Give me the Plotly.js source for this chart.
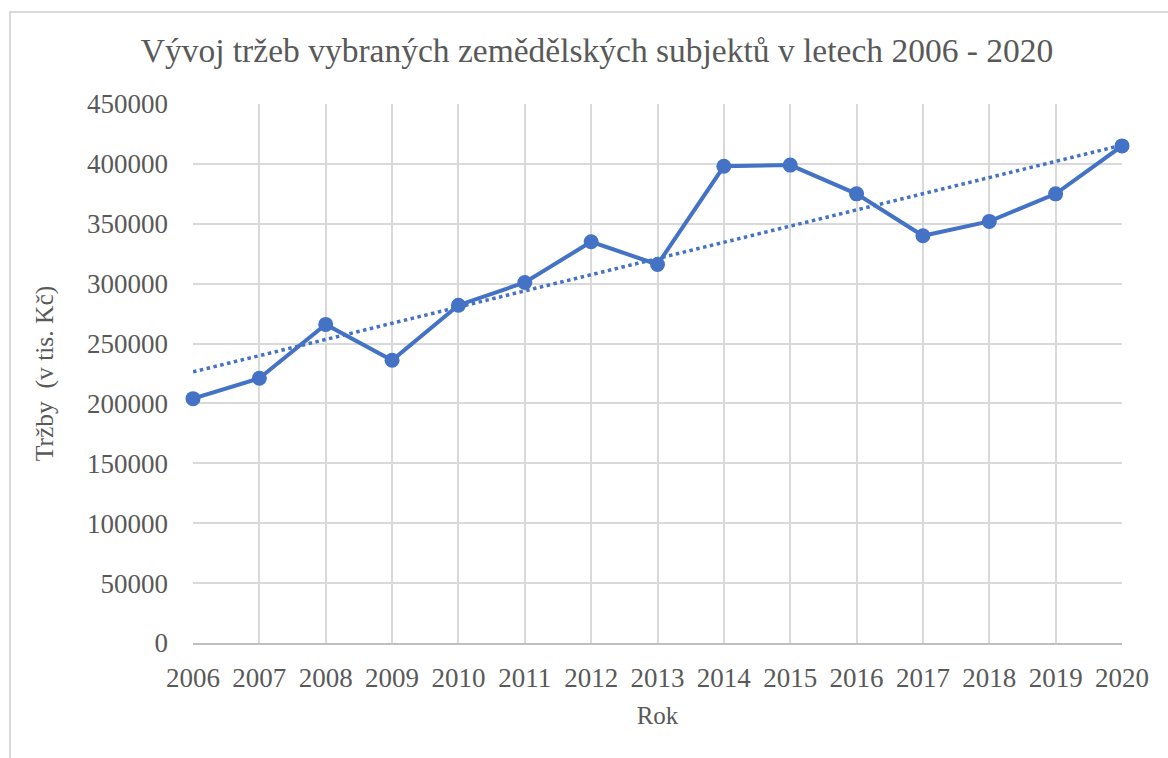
<!DOCTYPE html>
<html>
<head>
<meta charset="utf-8">
<script src="https://cdn.plot.ly/plotly-3.0.1.min.js"></script>
<style>
  html, body { margin: 0; padding: 0; background: #fff; }
  #wrap { position: relative; width: 1168px; height: 758px; overflow: hidden; }
  #chart { position: absolute; left: 0; top: 0; width: 1168px; height: 758px; }
  #frame { position: absolute; left: 9px; top: 11px; width: 1200px; height: 800px;
           border-left: 2px solid #d9d9d9; border-top: 2px solid #d9d9d9;
           pointer-events: none; }
</style>
</head>
<body>
<div id="wrap">
  <div id="chart"></div>
  <div id="frame"></div>
</div>
<script>
const years = [2006, 2007, 2008, 2009, 2010, 2011, 2012, 2013, 2014, 2015, 2016, 2017, 2018, 2019, 2020];
const revenue = [204000, 221000, 266000, 236000, 282000, 301000, 335000, 316000, 398000, 399000, 375000, 340000, 352000, 375000, 415000];
const yTicks = [0, 50000, 100000, 150000, 200000, 250000, 300000, 350000, 400000, 450000];

// linear trendline (least squares) derived from the data, as in the original chart
const n = years.length;
const mx = years.reduce((a, b) => a + b, 0) / n;
const my = revenue.reduce((a, b) => a + b, 0) / n;
let sxy = 0, sxx = 0;
for (let i = 0; i < n; i++) { sxy += (years[i] - mx) * (revenue[i] - my); sxx += (years[i] - mx) ** 2; }
const slope = sxy / sxx;
const intercept = my - slope * mx;
const trend = years.map(x => intercept + slope * x);

const blue = '#4472C4';
const txt = '#595959';
const font = '"Liberation Serif", "Times New Roman", serif';

const data = [
  { x: years, y: trend, type: 'scatter', mode: 'lines',
    line: { color: blue, width: 3.5, dash: 'dot' }, cliponaxis: false, hoverinfo: 'skip' },
  { x: years, y: revenue, type: 'scatter', mode: 'lines+markers',
    line: { color: blue, width: 4 }, marker: { color: blue, size: 15 }, cliponaxis: false }
];

const layout = {
  width: 1168, height: 758,
  margin: { l: 193, r: 46, t: 104, b: 115 },
  paper_bgcolor: 'rgba(0,0,0,0)', plot_bgcolor: '#fff',
  showlegend: false,
  font: { family: font, color: txt, size: 27 },
  title: { text: 'Vývoj tržeb vybraných zemědělských subjektů v letech 2006 - 2020',
           font: { family: font, size: 33.5, color: txt },
           x: 597 / 1168, xanchor: 'center', y: 1 - 50 / 758, yanchor: 'middle' },
  xaxis: {
    type: 'linear', range: [2006, 2020], tickmode: 'array', tickvals: years, ticktext: years.map(String),
    showgrid: true, gridcolor: '#d9d9d9', gridwidth: 2,
    showline: true, linecolor: '#bfbfbf', linewidth: 2, zeroline: false,
    ticks: '', ticklabelstandoff: 10,
    tickfont: { family: font, size: 27, color: txt },
    title: { text: 'Rok', font: { family: font, size: 25, color: txt }, standoff: 14 }
  },
  yaxis: {
    range: [0, 450000], tickmode: 'array', tickvals: yTicks, ticktext: yTicks.map(String),
    showgrid: true, gridcolor: '#d9d9d9', gridwidth: 2,
    showline: false, zeroline: false,
    ticks: '', ticklabelstandoff: 24,
    tickfont: { family: font, size: 27, color: txt },
    title: { text: 'Tržby\u00A0 (v tis. Kč)', font: { family: font, size: 25.5, color: txt }, standoff: 26 }
  }
};

Plotly.newPlot('chart', data, layout, { displayModeBar: false, staticPlot: true });
</script>
</body>
</html>
